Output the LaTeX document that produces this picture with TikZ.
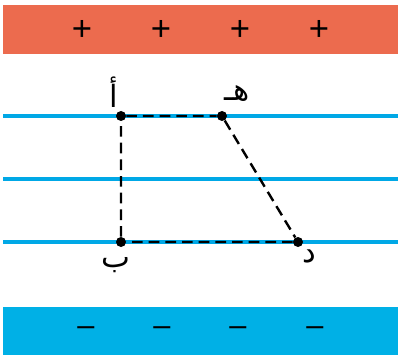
\documentclass[tikz,border=0pt]{standalone}
\usepackage{fontspec}
\setmainfont{Liberation Sans}
\newfontfamily\arabicfont[Script=Arabic]{DejaVu Sans}
\TeXXeTstate=1
\definecolor{plate}{HTML}{EC6B4E}
\definecolor{negplate}{HTML}{00B0E6}
\definecolor{eqline}{HTML}{00A8E6}
\tikzset{
  eqp/.style={draw=eqline, line width=3pt},
  path/.style={draw=black, line width=1.8pt, dash pattern=on 8pt off 4.5pt},
  pt/.style={circle, fill=black, inner sep=0pt, minimum size=7.5pt},
  sign/.style={font=\fontsize{26}{26}\selectfont, inner sep=0pt},
  neg/.style={font=\fontsize{23}{23}\selectfont, inner sep=0pt},
  lab/.style={font=\arabicfont\fontsize{23}{23}\selectfont, inner sep=0pt}
}
\begin{document}
\begin{tikzpicture}[x=0.75pt,y=-0.75pt]
\useasboundingbox (0,0) rectangle (398,363);
\fill[plate] (3,5) rectangle (398,54);
\fill[negplate] (3,307) rectangle (398,355);
\foreach \i/\x in {1/82,2/161,3/240,4/319} \node[sign] (p\i) at (\x,30) {+};
\foreach \i/\x in {1/86,2/162,3/238,4/315} \node[neg] (m\i) at (\x,331) {–};
\coordinate (l1a) at (3,116); \coordinate (l1b) at (398,116);
\coordinate (l2a) at (3,179); \coordinate (l2b) at (398,179);
\coordinate (l3a) at (3,242); \coordinate (l3b) at (398,242);
\draw[eqp] (l1a) -- (l1b);
\draw[eqp] (l2a) -- (l2b);
\draw[eqp] (l3a) -- (l3b);
\node[pt] (A) at (121,116) {};
\node[pt] (H) at (222,116) {};
\node[pt] (B) at (121,242) {};
\node[pt] (D) at (298,242) {};
\draw[path] (A) -- (H) -- (D) -- (B) -- (A);
\node[lab] (la) at (114,92) {\beginR أ\endR};
\node[lab] (lh) at (237,94) {\beginR هـ\endR};
\node[lab] (lb) at (116,265) {\beginR ب\endR};
\node[lab] (ld) at (309,256) {\beginR د\endR};
\end{tikzpicture}
\end{document}
